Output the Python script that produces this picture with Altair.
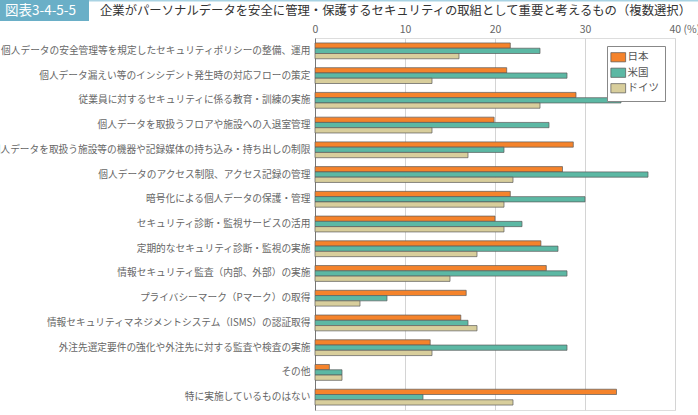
import altair as alt
import pandas as pd

categories = [
    "個人データの安全管理等を規定したセキュリティポリシーの整備、運用",
    "個人データ漏えい等のインシデント発生時の対応フローの策定",
    "従業員に対するセキュリティに係る教育・訓練の実施",
    "個人データを取扱うフロアや施設への入退室管理",
    "個人データを取扱う施設等の機器や記録媒体の持ち込み・持ち出しの制限",
    "個人データのアクセス制限、アクセス記録の管理",
    "暗号化による個人データの保護・管理",
    "セキュリティ診断・監視サービスの活用",
    "定期的なセキュリティ診断・監視の実施",
    "情報セキュリティ監査（内部、外部）の実施",
    "プライバシーマーク（Pマーク）の取得",
    "情報セキュリティマネジメントシステム（ISMS）の認証取得",
    "外注先選定要件の強化や外注先に対する監査や検査の実施",
    "その他",
    "特に実施しているものはない",
]
series = ["日本", "米国", "ドイツ"]
japan = [21.7, 21.3, 29.0, 19.9, 28.7, 27.5, 21.7, 20.0, 25.1, 25.7, 16.8, 16.2, 12.8, 1.6, 33.5]
us = [25.0, 28.0, 34.0, 26.0, 21.0, 37.0, 30.0, 23.0, 27.0, 28.0, 8.0, 17.0, 28.0, 3.0, 12.0]
germany = [16.0, 13.0, 25.0, 13.0, 17.0, 22.0, 21.0, 21.0, 18.0, 15.0, 5.0, 18.0, 13.0, 3.0, 22.0]
x_ticks = [0, 10, 20, 30, 40]
colors = ["#f5832b", "#5cb8a4", "#d8ce9c"]

title_badge = "図表3-4-5-5"
title_text = "企業がパーソナルデータを安全に管理・保護するセキュリティの取組として重要と考えるもの（複数選択）"

rows = []
for name, vals in zip(series, [japan, us, germany]):
    for c, v in zip(categories, vals):
        rows.append({"category": c, "series": name, "value": v})
df = pd.DataFrame(rows)

FONT = "Noto Sans CJK JP"

bars = alt.Chart(df).mark_bar(stroke="#5a5a5a", strokeWidth=0.7).encode(
    x=alt.X(
        "value:Q",
        scale=alt.Scale(domain=[0, 40], nice=False),
        axis=alt.Axis(
            orient="top",
            values=x_ticks,
            title=None,
            ticks=False,
            domain=False,
            grid=True,
            gridColor="#d4d4d4",
            labelColor="#666666",
            labelFontSize=10.5,
            labelPadding=4,
            labelExpr="datum.value == 40 ? '40 (%)' : datum.label",
            labelAlign=alt.ConditionalAxisLabelAlign(
                condition={"test": "datum.value == 40", "value": "left"}, value="center"
            ),
            labelOffset=alt.ConditionalAxisNumber(
                condition={"test": "datum.value == 40", "value": -6}, value=0
            ),
        ),
    ),
    y=alt.Y(
        "category:N",
        sort=categories,
        scale=alt.Scale(paddingInner=0.36, paddingOuter=0.2),
        axis=alt.Axis(
            title=None,
            ticks=False,
            domain=True,
            domainColor="#777777",
            labelColor="#666666",
            labelFontSize=9.7,
            labelLimit=0,
            labelPadding=5,
            grid=False,
        ),
    ),
    yOffset=alt.YOffset("series:N", sort=series, scale=alt.Scale(paddingInner=0, paddingOuter=0)),
    color=alt.Color(
        "series:N",
        sort=series,
        scale=alt.Scale(domain=series, range=colors),
        legend=alt.Legend(
            title=None,
            orient="none",
            legendX=292,
            legendY=8,
            symbolType="M-1.6,-1L1.6,-1L1.6,1L-1.6,1Z",
            symbolSize=85,
            symbolStrokeColor="#555555",
            symbolStrokeWidth=0.7,
            labelFontSize=10.5,
            labelColor="#555555",
            labelOffset=4,
            rowPadding=2.5,
            strokeColor="#888888",
            fillColor="white",
            padding=6,
        ),
    ),
)

one = pd.DataFrame({"k": [0]})

top_line = alt.Chart(one).mark_rect(color="#a9d3e3").encode(
    x=alt.value(-315), x2=alt.value(383), y=alt.value(-38), y2=alt.value(-36.5)
)
badge = alt.Chart(one).mark_rect(color="#6aafc7").encode(
    x=alt.value(-315), x2=alt.value(-226), y=alt.value(-38), y2=alt.value(-17)
)
badge_text = alt.Chart(one).mark_text(
    text=title_badge, color="white", fontSize=13.5, font=FONT, align="left", baseline="middle"
).encode(x=alt.value(-310), y=alt.value(-27))
title = alt.Chart(one).mark_text(
    text=title_text, color="#333333", fontSize=12.35, font=FONT, align="left", baseline="middle"
).encode(x=alt.value(-215), y=alt.value(-27))

chart = alt.layer(bars, top_line, badge, badge_text, title).properties(
    width=360,
    height=372,
    autosize=alt.AutoSizeParams(type="none"),
    padding={"left": 315, "top": 38, "right": 23, "bottom": 5},
).configure_view(stroke=None).configure(font=FONT)

chart.save("out.html", embed_options={"renderer": "svg", "actions": False})
